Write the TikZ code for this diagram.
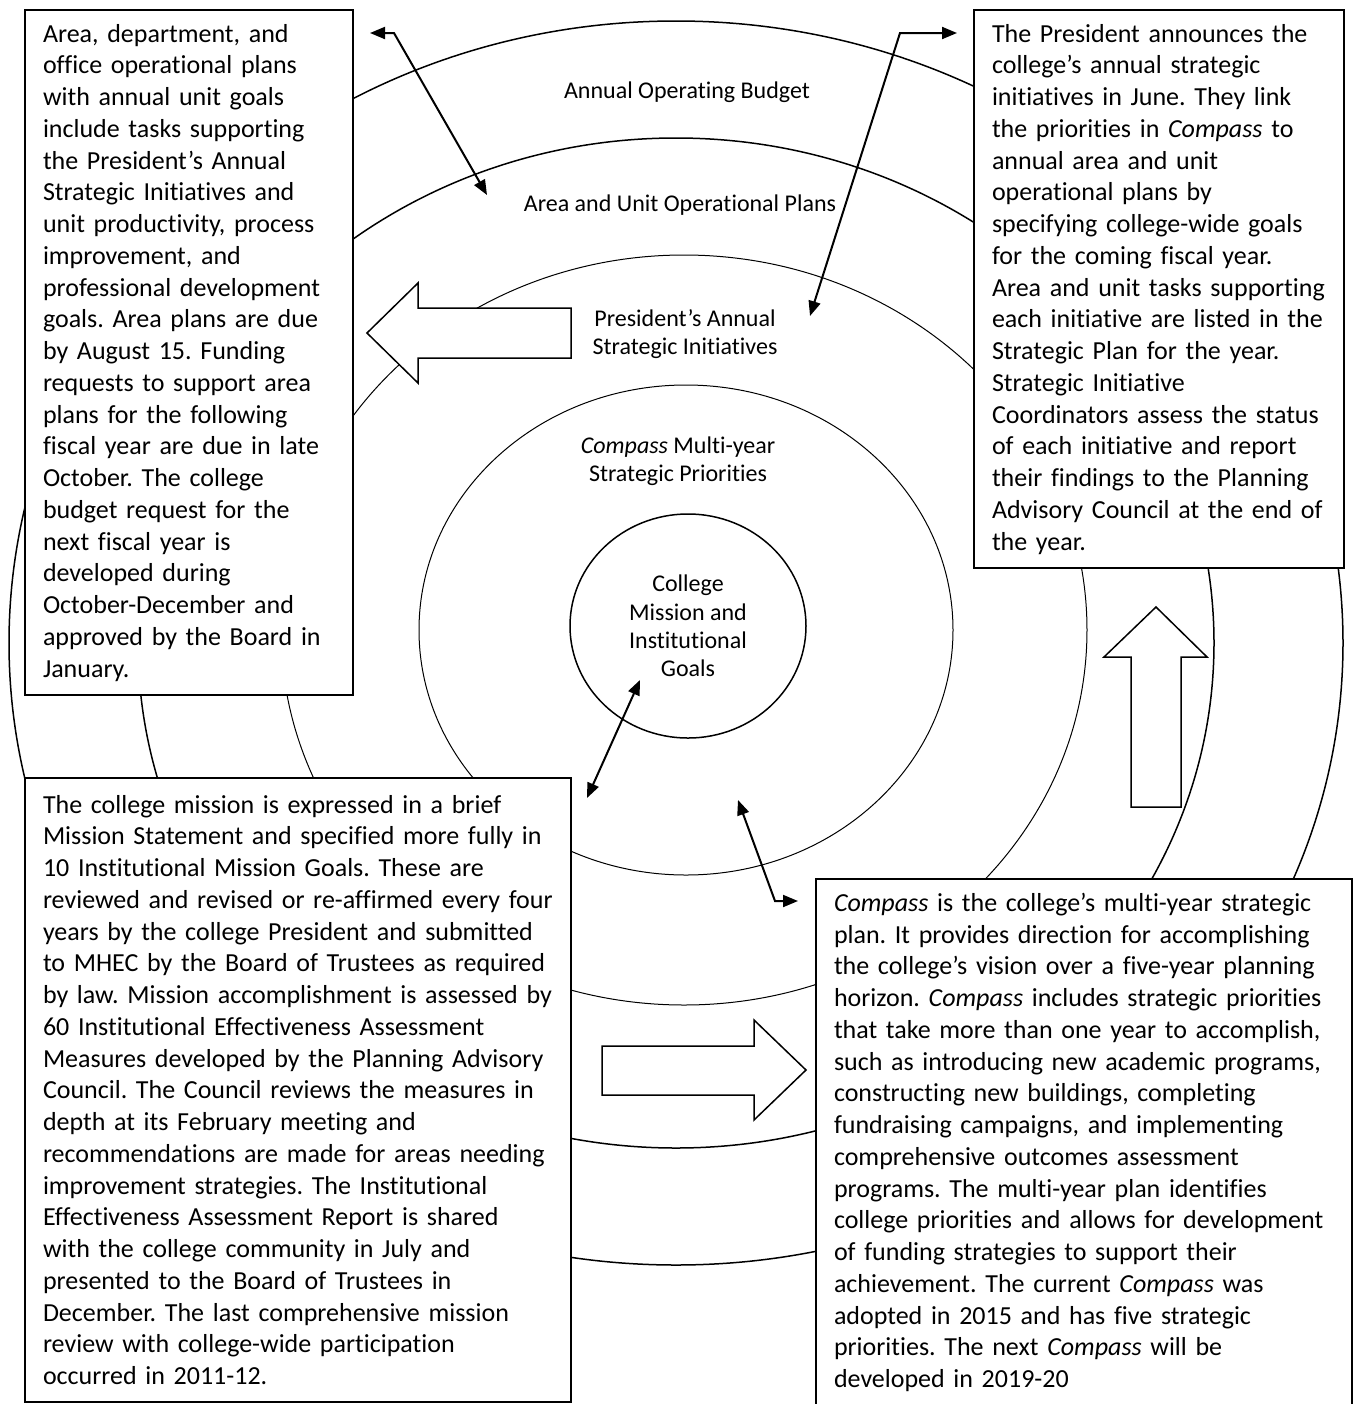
\documentclass[tikz,border=0pt]{standalone}
\usepackage{fontspec}
\setmainfont{Carlito}[Ligatures={TeX,NoCommon}]
\usetikzlibrary{arrows.meta,shapes.geometric}
\frenchspacing

\begin{document}
\begin{tikzpicture}[x=0.5pt,y=-0.5pt,
    note/.style={draw,line width=1pt,fill=white,anchor=north west,align=left,
      inner xsep=9pt,inner ysep=7pt,font=\fontsize{13}{15.875}\selectfont},
    tag/.style={align=center,font=\fontsize{12}{14.15}\selectfont},
    ring/.style={line width=0.75pt},
    thinring/.style={line width=0.5pt},
    block/.style={draw,fill=white,line width=0.75pt},
    link/.style={{Triangle[length=7.5pt,width=6pt]}-{Triangle[length=7.5pt,width=6pt]},line width=1pt}]
  \useasboundingbox (0,0) rectangle (1356,1404);
  \clip (0,0) rectangle (1356,1404);

  \draw[ring] (676,643) ellipse [x radius=667,y radius=622];
  \draw[ring] (676,643) ellipse [x radius=538,y radius=505];
  \draw[thinring] (684,630) ellipse [x radius=403,y radius=375];
  \draw[thinring] (686,630) ellipse [x radius=267,y radius=245];
  \node[draw,ellipse,line width=0.75pt,minimum width=118pt,minimum height=112pt,tag] (core) at (688,626)
    {College\\Mission and\\Institutional\\Goals};

  \node[tag] (budget) at (687,92) {Annual Operating Budget};
  \node[tag] (plans) at (680,205) {Area and Unit Operational Plans};
  \node[tag] (initiatives) at (685,334) {President's Annual\\Strategic Initiatives};
  \node[tag] (compass) at (678,461) {\textit{Compass} Multi-year\\Strategic Priorities};

  \node[note,text width=146pt] (plansnote) at (24,9) {Area, department, and\\
    office operational plans\\
    with annual unit goals\\
    include tasks supporting\\
    the President's Annual\\
    Strategic Initiatives and\\
    unit productivity, process\\
    improvement, and\\
    professional development\\
    goals. Area plans are due\\
    by August 15. Funding\\
    requests to support area\\
    plans for the following\\
    fiscal year are due in late\\
    October. The college\\
    budget request for the\\
    next fiscal year is\\
    developed during\\
    October-December and\\
    approved by the Board in\\
    January.};
  \node[note,text width=167pt] (initnote) at (973,9) {The President announces the\\
    college's annual strategic\\
    initiatives in June. They link\\
    the priorities in \textit{Compass} to\\
    annual area and unit\\
    operational plans by\\
    specifying college-wide goals\\
    for the coming fiscal year.\\
    Area and unit tasks supporting\\
    each initiative are listed in the\\
    Strategic Plan for the year.\\
    Strategic Initiative\\
    Coordinators assess the status\\
    of each initiative and report\\
    their findings to the Planning\\
    Advisory Council at the end of\\
    the year.};
  \node[note,text width=255pt,inner ysep=8.5pt] (missionnote) at (24,777) {The college mission is expressed in a brief\\
    Mission Statement and specified more fully in\\
    10 Institutional Mission Goals. These are\\
    reviewed and revised or re-affirmed every four\\
    years by the college President and submitted\\
    to MHEC by the Board of Trustees as required\\
    by law. Mission accomplishment is assessed by\\
    60 Institutional Effectiveness Assessment\\
    Measures developed by the Planning Advisory\\
    Council. The Council reviews the measures in\\
    depth at its February meeting and\\
    recommendations are made for areas needing\\
    improvement strategies. The Institutional\\
    Effectiveness Assessment Report is shared\\
    with the college community in July and\\
    presented to the Board of Trustees in\\
    December. The last comprehensive mission\\
    review with college-wide participation\\
    occurred in 2011-12.};
  \node[note,text width=250pt] (compassnote) at (815,878) {\textit{Compass} is the college's multi-year strategic\\
    plan. It provides direction for accomplishing\\
    the college's vision over a five-year planning\\
    horizon. \textit{Compass} includes strategic priorities\\
    that take more than one year to accomplish,\\
    such as introducing new academic programs,\\
    constructing new buildings, completing\\
    fundraising campaigns, and implementing\\
    comprehensive outcomes assessment\\
    programs. The multi-year plan identifies\\
    college priorities and allows for development\\
    of funding strategies to support their\\
    achievement. The current \textit{Compass} was\\
    adopted in 2015 and has five strategic\\
    priorities. The next \textit{Compass} will be\\
    developed in 2019-20};

  \draw[block] (571,308) -- (418,308) -- (418,283) -- (367,333) -- (418,383) -- (418,358) -- (571,358) -- cycle;
  \draw[block] (602,1046) -- (754,1046) -- (754,1020) -- (806,1070) -- (754,1120) -- (754,1095) -- (602,1095) -- cycle;
  \draw[block] (1131,807) -- (1131,657) -- (1104,657) -- (1156,607) -- (1207,657) -- (1181,657) -- (1181,807) -- cycle;

  \coordinate (p1) at (370,33);
  \coordinate (p2) at (394,33);
  \coordinate (p3) at (487,195);
  \coordinate (s1) at (957,33);
  \coordinate (s2) at (900,33);
  \coordinate (s3) at (810,316);
  \coordinate (m1) at (640,680);
  \coordinate (m2) at (587,798);
  \coordinate (c1) at (738,800);
  \coordinate (c2) at (775,901);
  \coordinate (c3) at (798,901);
  \draw[link] (p1) -- (p2) -- (p3);
  \draw[link] (s1) -- (s2) -- (s3);
  \draw[link] (m1) -- (m2);
  \draw[link] (c1) -- (c2) -- (c3);
\end{tikzpicture}
\end{document}
